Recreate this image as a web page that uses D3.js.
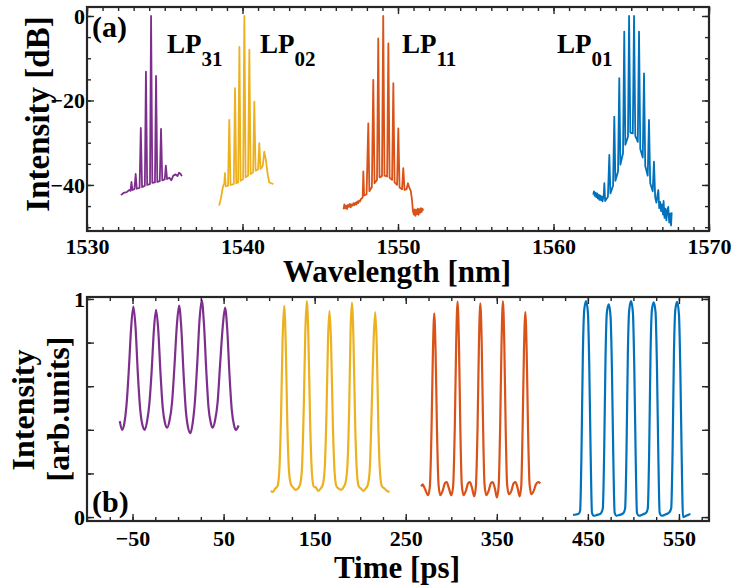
<!DOCTYPE html>
<html>
<head>
<meta charset="utf-8">
<script src="https://cdn.jsdelivr.net/npm/d3@7"></script>
<style>
  body { margin: 0; background: #fff; }
  text { font-family: "Liberation Serif", "Times New Roman", serif; font-weight: bold; fill: #000; }
</style>
</head>
<body>
<div id="chart"></div>
<script>
const width = 732
const height = 587

// ---- data ----
const colors = { lp31: "#7E2F8E", lp02: "#EDB120", lp11: "#D95319", lp01: "#0072BD" }

const modeLabels = [
  { name: "LP", sub: "31", x: 167 },
  { name: "LP", sub: "02", x: 260 },
  { name: "LP", sub: "11", x: 402 },
  { name: "LP", sub: "01", x: 557 }
]

const wlTicks = [1530, 1540, 1550, 1560, 1570]
const dbTicks = [0, -20, -40]
const timeTicks = [-50, 50, 150, 250, 350, 450, 550]
const arbTicks = [0, 0.2, 0.4, 0.6, 0.8, 1]

// spectra [wavelength nm, dB]
const lp31Spec = [[1532.18,-42.4],[1532.35,-41.9],[1532.55,-41.7],[1532.72,-41.2],[1532.8,-41.4],[1532.86,-39.3],[1532.92,-41.2],[1533.05,-41.0],[1533.13,-37.4],[1533.2,-40.9],[1533.38,-40.7],[1533.46,-26.5],[1533.54,-40.5],[1533.72,-40.2],[1533.79,-13.2],[1533.87,-40.0],[1534.05,-39.8],[1534.12,0],[1534.2,-39.5],[1534.37,-39.4],[1534.44,-14.2],[1534.52,-39.3],[1534.68,-39.1],[1534.76,-26.7],[1534.84,-38.9],[1535.0,-38.7],[1535.07,-35.4],[1535.15,-38.6],[1535.3,-38.3],[1535.42,-38.9],[1535.55,-37.8],[1535.7,-37.5],[1535.82,-37.9],[1535.92,-37.1],[1536.02,-37.4],[1536.1,-37.9]]

const lp02Spec = [[1538.5,-44.9],[1538.62,-43.0],[1538.75,-40.3],[1538.83,-39.6],[1538.87,-37.2],[1538.92,-40.3],[1539.07,-40.2],[1539.15,-24.6],[1539.23,-40.0],[1539.44,-39.8],[1539.52,-17.1],[1539.6,-39.6],[1539.72,-39.4],[1539.8,-7.3],[1539.88,-39.0],[1540.04,-38.6],[1540.12,0],[1540.2,-38.2],[1540.36,-37.8],[1540.44,-8.0],[1540.52,-37.4],[1540.68,-37.0],[1540.76,-20.3],[1540.84,-36.6],[1541.0,-36.3],[1541.08,-30.1],[1541.16,-36.2],[1541.3,-35.5],[1541.4,-32.1],[1541.5,-34.0],[1541.62,-37.5],[1541.72,-39.4],[1541.85,-39.6],[1541.98,-39.8]]

const lp11Spec = [[1546.5,-45.8],[1546.55,-44.6],[1546.6,-45.5],[1546.66,-44.9],[1546.72,-45.7],[1546.78,-44.7],[1546.84,-45.2],[1546.9,-44.5],[1546.96,-45.3],[1547.02,-44.6],[1547.08,-44.9],[1547.14,-44.3],[1547.2,-44.8],[1547.26,-44.2],[1547.32,-44.6],[1547.38,-43.9],[1547.44,-44.3],[1547.5,-43.7],[1547.56,-43.9],[1547.62,-43.3],[1547.68,-43.2],
  [1547.73,-42.8],[1547.77,-36.8],[1547.82,-42.5],[1547.98,-42.2],[1548.09,-25.4],[1548.16,-41.5],[1548.32,-40.5],[1548.41,-15.1],[1548.49,-39.6],[1548.65,-38.8],[1548.73,-5.3],[1548.81,-38.2],[1548.97,-37.9],[1549.05,0],[1549.13,-37.8],[1549.3,-38.0],[1549.38,-6.5],[1549.46,-38.3],[1549.62,-38.8],[1549.7,-15.9],[1549.78,-39.4],[1549.94,-40.0],[1550.02,-26.6],[1550.1,-40.6],[1550.26,-41.0],[1550.34,-36.0],[1550.42,-41.2],[1550.55,-41.0],[1550.64,-39.6],[1550.72,-40.6],[1550.82,-41.4],[1550.9,-43.5],[1550.96,-46.2],[1551.02,-47.0],
  [1551.07,-45.8],[1551.12,-47.3],[1551.17,-45.9],[1551.22,-46.9],[1551.27,-45.6],[1551.32,-47.1],[1551.37,-45.7],[1551.42,-46.6],[1551.47,-45.5],[1551.52,-46.4],[1551.57,-45.6],[1551.62,-46.1]]

const lp01Spec = [[1562.56,-42.3],[1562.6,-41.5],[1562.65,-42.6],[1562.7,-41.8],[1562.75,-42.9],[1562.8,-42.0],[1562.85,-43.2],[1562.9,-42.3],[1562.95,-43.5],[1563.0,-42.5],[1563.05,-43.6],[1563.1,-42.7],[1563.15,-43.9],[1563.2,-43.0],
  [1563.23,-42.5],[1563.27,-39.6],[1563.32,-43.8],[1563.5,-42.8],[1563.59,-32.9],[1563.66,-42.0],[1563.83,-40.2],[1563.91,-23.8],[1563.98,-39.0],[1564.15,-36.8],[1564.23,-14.7],[1564.3,-35.2],[1564.47,-32.5],[1564.55,-3.7],[1564.62,-30.5],[1564.79,-28.6],[1564.86,0],[1564.94,-27.6],[1565.1,-27.8],[1565.18,0],[1565.26,-28.4],[1565.42,-29.8],[1565.5,-3.7],[1565.58,-31.5],[1565.74,-33.5],[1565.82,-13.6],[1565.9,-35.5],[1566.06,-37.8],[1566.14,-24.6],[1566.22,-39.6],[1566.38,-41.5],[1566.46,-34.5],[1566.54,-43.0],
  [1566.62,-44.2],[1566.68,-42.5],[1566.74,-41.2],[1566.8,-45.5],[1566.86,-44.0],[1566.92,-46.2],[1566.98,-44.6],[1567.04,-47.0],[1567.08,-43.8],[1567.14,-47.8],[1567.2,-45.6],[1567.26,-48.4],[1567.32,-46.0],[1567.38,-45.2],[1567.44,-48.9],[1567.5,-46.8],[1567.56,-49.6],[1567.6,-46.5]]

// pulse trains [time ps, intensity a.u.]
const lp31Time = [[-64,0.44],[-61.5,0.40],[-59,0.43],[-56.5,0.52],[-54,0.68],[-51.5,0.87],[-49.1,0.965],[-46.7,0.87],[-44.2,0.66],[-41.5,0.49],[-39,0.42],[-36.5,0.40],[-34,0.44],[-31.5,0.52],[-29,0.67],[-26.5,0.86],[-24.2,0.95],[-21.8,0.86],[-19.3,0.66],[-16.8,0.50],[-14.3,0.43],[-12,0.41],[-9.5,0.44],[-6.5,0.53],[-4,0.69],[-1.3,0.88],[1.1,0.97],[3.5,0.87],[6,0.66],[8.5,0.49],[11,0.41],[13.5,0.385],[16,0.43],[18.5,0.53],[21,0.70],[23.5,0.90],[26,0.995],[28.5,0.88],[31,0.67],[33.5,0.50],[36,0.43],[38,0.41],[40.5,0.44],[43.5,0.53],[46,0.69],[49.2,0.88],[51.6,0.96],[54,0.86],[56.5,0.65],[59,0.49],[61.5,0.42],[63.5,0.40],[66.5,0.42]]

const lp02Time = [[101.8,0.12],[104,0.115],[106.5,0.13],[109,0.14],[111,0.2],[113,0.45],[114.8,0.82],[116.5,0.968],[118.2,0.8],[120,0.42],[122,0.2],[124,0.15],[126.5,0.135],[129,0.125],[131.5,0.13],[134,0.15],[136,0.22],[138,0.5],[139.8,0.86],[141.4,0.99],[143,0.84],[145,0.44],[147,0.2],[149,0.14],[151.5,0.135],[154,0.12],[156.5,0.13],[159,0.15],[161,0.22],[163,0.48],[164.7,0.82],[166.3,0.946],[168,0.8],[170,0.42],[172,0.2],[174,0.14],[176.5,0.13],[179,0.125],[181.5,0.135],[184,0.16],[186,0.24],[188,0.52],[189.4,0.85],[190.9,0.983],[192.5,0.83],[194.5,0.42],[196.5,0.2],[198.5,0.14],[201,0.13],[203.5,0.12],[206,0.13],[208.5,0.15],[210.5,0.22],[212.5,0.48],[214.8,0.82],[216.5,0.94],[218.2,0.78],[220,0.4],[222,0.19],[224,0.14],[227,0.13],[229.5,0.12],[232.2,0.115]]

const lp11Time = [[267,0.14],[268.5,0.15],[271,0.13],[274.5,0.10],[276.5,0.14],[278.3,0.4],[279.8,0.75],[281.3,0.934],[282.8,0.75],[284.3,0.4],[286,0.15],[288,0.10],[290.5,0.12],[293,0.155],[295,0.16],[297.5,0.13],[300,0.10],[302,0.14],[303.9,0.42],[305.4,0.8],[306.9,0.988],[308.4,0.8],[309.9,0.42],[311.5,0.15],[313.5,0.10],[316,0.12],[318.5,0.155],[320.5,0.16],[323,0.13],[325.2,0.095],[327,0.14],[328.9,0.42],[330.4,0.8],[331.9,0.98],[333.4,0.8],[334.9,0.42],[336.5,0.15],[338.5,0.10],[341,0.12],[343.5,0.155],[345.5,0.16],[348,0.13],[350,0.09],[352,0.14],[353.7,0.42],[355.2,0.8],[356.7,0.99],[358.2,0.8],[359.7,0.42],[361.3,0.15],[363.3,0.105],[366,0.12],[368.5,0.155],[370.5,0.16],[373,0.13],[375,0.095],[376.8,0.14],[378.3,0.4],[379.8,0.76],[381.3,0.94],[382.8,0.76],[384.3,0.4],[386,0.15],[388,0.105],[390.5,0.12],[393,0.15],[395.5,0.16],[397.8,0.155]]

const lp01Time = [[433.7,0.01],[437,0.012],[440,0.015],[441.5,0.03],[443,0.3],[444.5,0.75],[446,0.95],[448,0.99],[450,0.94],[451.5,0.7],[453,0.3],[454.5,0.02],[456.5,0.006],[460,0.01],[464,0.016],
  [466.4,0.04],[467.9,0.3],[469.4,0.74],[470.9,0.94],[472.9,0.975],[474.9,0.92],[476.4,0.68],[477.9,0.28],[479.4,0.02],[481.5,0.006],[485,0.01],[489,0.018],
  [490.9,0.04],[492.4,0.3],[493.9,0.75],[495.4,0.95],[497.4,0.99],[499.4,0.94],[500.9,0.7],[502.4,0.3],[503.9,0.02],[506,0.006],[510,0.012],[514,0.02],
  [515.8,0.04],[517.3,0.3],[518.8,0.75],[520.3,0.95],[522.3,0.985],[524.3,0.94],[525.8,0.7],[527.3,0.3],[528.8,0.02],[531,0.006],[535,0.012],[539,0.02],
  [541.5,0.04],[543,0.3],[544.5,0.75],[546,0.95],[548,0.987],[550,0.93],[551.5,0.68],[553,0.28],[554.5,0.0],[557,0.004],[560,0.01],[562.6,0.014]]

const spectra = [
  { key: "lp31", data: lp31Spec },
  { key: "lp02", data: lp02Spec },
  { key: "lp11", data: lp11Spec },
  { key: "lp01", data: lp01Spec }
]
const pulses = [
  { key: "lp31", data: lp31Time },
  { key: "lp02", data: lp02Time },
  { key: "lp11", data: lp11Time },
  { key: "lp01", data: lp01Time }
]

// ---- layout ----
const serif = "'Liberation Serif', 'Times New Roman', serif"
const frameColor = "#262626"
const left = 87, right = 709
const panelA = { top: 7, bottom: 231 }
const panelB = { top: 297, bottom: 521 }

const svg = d3.select("#chart").append("svg")
  .attr("width", width)
  .attr("height", height)
  .style("background", "#fff")

// scales
const xA = d3.scaleLinear().domain([1530, 1570]).range([left, right])
const yA = d3.scaleLinear().domain([-50.9, 2.13]).range([panelA.bottom, panelA.top])
const xB = d3.scaleLinear().domain([-100, 583]).range([left, right])
const yB = d3.scaleLinear().domain([-0.018, 1.009]).range([panelB.bottom, panelB.top])

function styleAxis(g) {
  g.attr("font-family", serif).attr("font-weight", "bold").attr("font-size", 22)
  g.select(".domain").remove()
  g.selectAll("line").attr("stroke", frameColor).attr("stroke-width", 1.4)
  g.selectAll("text")
    .style("font-family", serif)
    .style("font-weight", "bold")
    .style("font-size", "22px")
    .attr("fill", "#000")
}

function drawAxes(x, y, p, xMajor, xMinor, yMajor, yMinor, yFmt, xPad) {
  const noLab = () => ""
  // minor ticks, all four sides
  svg.append("g").attr("transform", `translate(0,${p.bottom})`)
    .call(d3.axisBottom(x).tickValues(xMinor).tickSize(-4).tickFormat(noLab)).call(styleAxis)
  svg.append("g").attr("transform", `translate(0,${p.top})`)
    .call(d3.axisTop(x).tickValues(xMinor).tickSize(-4).tickFormat(noLab)).call(styleAxis)
  svg.append("g").attr("transform", `translate(${left},0)`)
    .call(d3.axisLeft(y).tickValues(yMinor).tickSize(-4).tickFormat(noLab)).call(styleAxis)
  svg.append("g").attr("transform", `translate(${right},0)`)
    .call(d3.axisRight(y).tickValues(yMinor).tickSize(-4).tickFormat(noLab)).call(styleAxis)
  // major ticks
  svg.append("g").attr("transform", `translate(0,${p.bottom})`)
    .call(d3.axisBottom(x).tickValues(xMajor).tickSize(-7).tickPadding(xPad).tickFormat(d3.format("d"))).call(styleAxis)
  svg.append("g").attr("transform", `translate(0,${p.top})`)
    .call(d3.axisTop(x).tickValues(xMajor).tickSize(-7).tickFormat(noLab)).call(styleAxis)
  svg.append("g").attr("transform", `translate(${left},0)`)
    .call(d3.axisLeft(y).tickValues(yMajor).tickSize(-7).tickPadding(2).tickFormat(yFmt)).call(styleAxis)
  svg.append("g").attr("transform", `translate(${right},0)`)
    .call(d3.axisRight(y).tickValues(yMajor).tickSize(-7).tickFormat(noLab)).call(styleAxis)
  // frame
  svg.append("rect")
    .attr("x", left).attr("y", p.top)
    .attr("width", right - left).attr("height", p.bottom - p.top)
    .attr("fill", "none").attr("stroke", frameColor).attr("stroke-width", 2.2)
}

// ---- panel (a): spectra ----
const lineA = d3.line().x(d => xA(d[0])).y(d => yA(d[1]))
svg.append("g").selectAll("path")
  .data(spectra)
  .join("path")
  .attr("d", d => lineA(d.data))
  .attr("fill", "none")
  .attr("stroke", d => colors[d.key])
  .attr("stroke-width", 1.8)
  .attr("stroke-linejoin", "round")

drawAxes(xA, yA, panelA, wlTicks, d3.range(1530, 1571, 1), dbTicks, d3.range(-50, 1, 5),
  d3.format("d"), 7)

// ---- panel (b): pulse trains ----
const lineB = d3.line().x(d => xB(d[0])).y(d => yB(d[1])).curve(d3.curveMonotoneX)
svg.append("g").selectAll("path")
  .data(pulses)
  .join("path")
  .attr("d", d => lineB(d.data))
  .attr("fill", "none")
  .attr("stroke", d => colors[d.key])
  .attr("stroke-width", 2.2)
  .attr("stroke-linejoin", "round")

drawAxes(xB, yB, panelB, timeTicks, d3.range(-100, 576, 25), arbTicks, arbTicks,
  d => (d === 0 || d === 1) ? d3.format("d")(d) : "", 9)

// ---- labels ----
const labels = svg.append("g")

labels.selectAll(".mode")
  .data(modeLabels)
  .join("text")
  .attr("class", "mode")
  .attr("x", d => d.x)
  .attr("y", 53)
  .style("font-size", "27px")
  .text(d => d.name)
  .append("tspan")
  .attr("dy", 13)
  .style("font-size", "21px")
  .text(d => d.sub)

labels.append("text").attr("x", 92).attr("y", 37).style("font-size", "30px").text("(a)")
labels.append("text").attr("x", 92).attr("y", 512).style("font-size", "30px").text("(b)")

labels.append("text")
  .attr("x", 397).attr("y", 282)
  .attr("text-anchor", "middle")
  .style("font-size", "31px")
  .text("Wavelength [nm]")

labels.append("text")
  .attr("x", 397).attr("y", 578)
  .attr("text-anchor", "middle")
  .style("font-size", "31px")
  .text("Time [ps]")

labels.append("text")
  .attr("transform", "translate(49,114) rotate(-90)")
  .attr("text-anchor", "middle")
  .style("font-size", "33px")
  .text("Intensity [dB]")

labels.append("text")
  .attr("transform", "translate(34,410) rotate(-90)")
  .attr("text-anchor", "middle")
  .style("font-size", "32px")
  .text("Intensity")

labels.append("text")
  .attr("transform", "translate(69,409) rotate(-90)")
  .attr("text-anchor", "middle")
  .style("font-size", "32px")
  .text("[arb.units]")
</script>
</body>
</html>
